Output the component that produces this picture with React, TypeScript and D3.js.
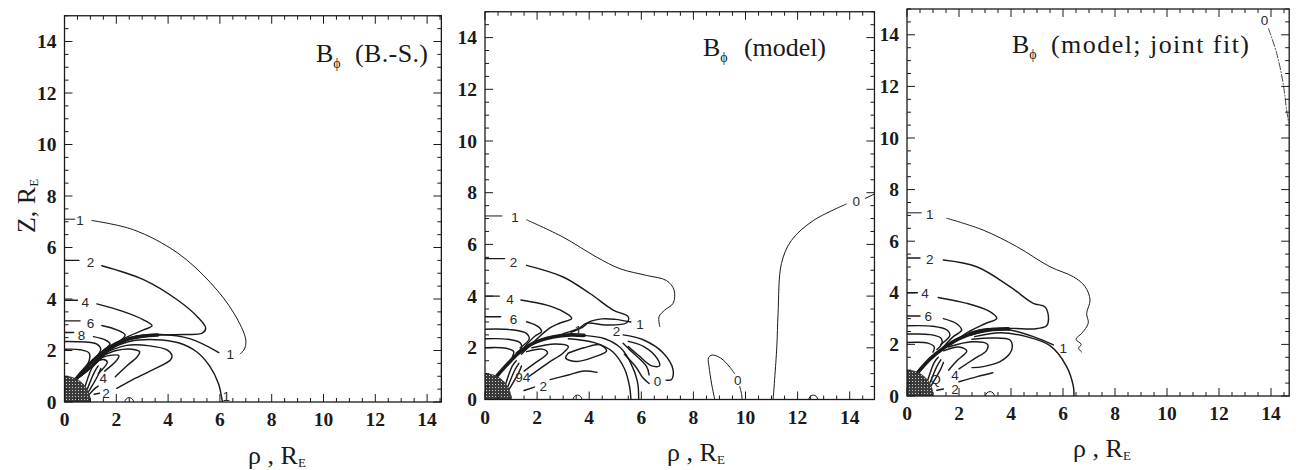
import React from "react";
import * as d3 from "d3";

type Pt = [number, number];

// ---------- tick values ----------
const majorTicks = [0, 2, 4, 6, 8, 10, 12, 14];
const earthRadius = 1;

// ---------- Panel 1 (B.-S.) ----------
const p1Thin: Pt[][] = [
  [[0, 7.1], [0.4, 7.1]],
  [[1.05, 7.05], [2.66, 6.69], [4.35, 5.8], [5.64, 4.63], [6.54, 3.45], [7.0, 2.41], [6.93, 2.02], [6.78, 1.87]],
];
const p1Lines: Pt[][] = [
  [[5.96, 1.92], [4.86, 2.45], [3.7, 2.62], [2.6, 2.52], [1.8, 2.12], [1.2, 1.55], [0.55, 0.95]],
  [[0, 5.5], [0.55, 5.5]],
  [[1.44, 5.29], [3.05, 4.75], [4.35, 3.97], [5.12, 3.32], [5.45, 2.87], [5.32, 2.67], [4.6, 2.62], [3.6, 2.6], [2.6, 2.45], [1.8, 2.05], [1.2, 1.5], [0.55, 0.95]],
  [[0, 3.95], [0.5, 3.95]],
  [[1.25, 3.81], [2.28, 3.51], [3.05, 3.19], [3.38, 2.96], [3.05, 2.8], [2.28, 2.45], [1.7, 2.0], [1.15, 1.45], [0.55, 0.95]],
  [[0, 3.15], [0.6, 3.15]],
  [[1.44, 2.97], [2.02, 2.8], [2.34, 2.6], [2.02, 2.28], [1.6, 1.95], [1.1, 1.4], [0.55, 0.95]],
  [[0, 2.7], [0.35, 2.7]],
  [[1.12, 2.54], [1.57, 2.41], [1.76, 2.25], [1.5, 2.0], [1.05, 1.4], [0.55, 0.95]],
  [[0, 2.35], [0.8, 2.33], [1.25, 2.25], [1.4, 2.05], [1.0, 1.45], [0.55, 0.95]],
  [[0, 2.05], [0.6, 2.03], [0.95, 1.9], [0.95, 1.6], [0.7, 1.2], [0.5, 0.95]],
  [[1.5, 1.95], [2.5, 2.35], [3.5, 2.42], [4.4, 2.3], [5.1, 1.95], [5.6, 1.4], [5.95, 0.7], [6.08, 0.1], [6.1, 0]],
  [[1.3, 1.8], [2.4, 2.2], [3.3, 2.18], [3.96, 2.02], [4.15, 1.8], [4.09, 1.63], [3.3, 1.2], [2.6, 0.85], [2.02, 0.53]],
  [[1.25, 1.7], [2.0, 2.0], [2.6, 2.05], [2.9, 1.95], [2.8, 1.75], [2.4, 1.4], [1.96, 0.98]],
  [[1.15, 1.6], [1.7, 1.8], [2.1, 1.8], [2.0, 1.6], [1.55, 1.2]],
  [[1.1, 1.5], [1.5, 1.65], [1.65, 1.55], [1.3, 1.1]],
  [[0.8, 0.62], [1.05, 1.3], [1.2, 1.5]],
  [[0.88, 0.5], [1.15, 1.15], [1.3, 1.4]],
  [[0.93, 0.4], [1.3, 1.05], [1.4, 1.3]],
  [[0.96, 0.3], [1.2, 0.55], [1.3, 0.62]],
  [[1.15, 0.3], [1.35, 0.34]],
];
const p1Bundle: Pt[] = [[0.45, 0.9], [0.8, 1.3], [1.2, 1.7], [1.7, 2.1], [2.3, 2.4], [3.0, 2.55], [3.6, 2.6]];
const p1Labels: [string, number, number][] = [
  ["1", 0.6, 7.05], ["2", 1.0, 5.4], ["4", 0.8, 3.85], ["6", 1.0, 3.05], ["8", 0.66, 2.6],
  ["1", 6.4, 1.85], ["4", 1.5, 0.9], ["2", 1.6, 0.33], ["1", 6.25, 0.22],
];
const p1Bumps: number[] = [2.5];
const p1Dashed: Pt[][] = [];

// ---------- Panel 2 (model) ----------
const p2Thin: Pt[][] = [
  [[0, 7.1], [0.65, 7.1]],
  [[1.6, 6.95], [3.0, 6.28], [4.28, 5.51], [5.18, 5.06], [6.2, 4.8], [6.97, 4.6], [7.26, 4.23], [7.22, 3.72], [6.9, 3.46], [6.68, 3.2], [6.71, 2.82]],
  [[8.82, 0], [8.7, 0.6], [8.6, 1.28], [8.58, 1.62], [8.72, 1.72], [9.05, 1.6], [9.4, 1.25], [9.58, 1.0]],
  [[9.78, 0.5], [9.85, 0.2], [9.87, 0]],
  [[11.06, 0], [11.2, 2.0], [11.25, 3.33], [11.38, 5.26], [11.76, 6.15], [12.6, 6.92], [13.87, 7.56]],
  [[14.6, 7.78], [14.95, 7.95]],
];
const p2Lines: Pt[][] = [
  [[5.6, 3.0], [5.0, 3.1], [4.5, 3.12], [4.0, 3.0], [3.75, 2.8], [3.3, 2.6]],
  [[0, 5.45], [0.75, 5.45]],
  [[1.6, 5.19], [3.0, 4.74], [4.03, 4.1], [4.92, 3.46], [5.5, 3.2], [5.44, 2.97], [4.67, 2.88], [3.9, 2.95], [3.6, 2.75], [3.0, 2.55]],
  [[0, 4.0], [0.55, 4.0]],
  [[1.38, 3.85], [2.37, 3.65], [3.0, 3.4], [3.33, 3.14], [2.86, 2.95], [2.48, 2.76], [2.0, 2.35], [1.4, 1.75]],
  [[0, 3.2], [0.6, 3.2]],
  [[1.6, 3.01], [2.04, 2.82], [2.17, 2.63], [1.9, 2.44], [1.4, 1.9]],
  [[0, 2.72], [1.0, 2.7], [1.6, 2.55], [1.7, 2.35], [1.35, 2.0]],
  [[0, 2.35], [0.9, 2.33], [1.35, 2.2], [1.4, 2.0], [1.2, 1.8]],
  [[0, 2.0], [0.8, 1.98], [1.1, 1.85], [1.05, 1.65]],
  [[3.8, 2.48], [4.6, 2.35], [5.2, 2.0], [5.6, 1.4], [5.85, 0.7], [5.9, 0]],
  [[3.2, 2.35], [4.2, 2.2], [4.9, 1.85], [5.35, 1.2], [5.55, 0.5], [5.6, 0]],
  [[1.8, 2.0], [2.7, 2.15], [3.2, 2.05], [3.0, 1.8], [2.4, 1.4], [1.7, 0.9]],
  [[1.6, 1.85], [2.2, 1.95], [2.4, 1.8], [1.9, 1.4], [1.5, 1.1]],
  [[3.2, 1.8], [3.8, 2.0], [4.41, 2.12], [4.67, 1.88], [4.2, 1.65], [3.52, 1.47], [3.1, 1.6], [3.2, 1.8]],
  [[2.5, 0.77], [3.2, 0.95], [3.8, 1.1], [4.3, 1.05]],
  [[5.3, 2.5], [6.07, 2.31], [6.84, 1.8], [7.22, 1.15], [7.16, 0.77], [6.95, 0.75]],
  [[6.3, 0.95], [6.2, 1.28], [5.56, 1.92], [5.3, 2.18]],
  [[5.5, 2.25], [6.1, 2.05], [6.6, 1.6], [6.7, 1.3], [6.4, 1.3], [5.9, 1.7], [5.5, 2.05]],
  [[5.35, 1.75], [5.8, 1.25], [6.05, 0.85], [6.3, 0.62]],
  [[0.8, 0.62], [1.05, 1.3], [1.2, 1.5]],
  [[0.88, 0.5], [1.15, 1.15], [1.3, 1.4]],
  [[0.93, 0.4], [1.3, 1.05], [1.4, 1.3]],
  [[1.5, 0.35], [1.9, 0.48]],
];
const p2Bundle: Pt[] = [[0.45, 0.9], [0.85, 1.35], [1.3, 1.8], [1.9, 2.2], [2.6, 2.42], [3.3, 2.5], [3.8, 2.48]];
const p2Labels: [string, number, number][] = [
  ["1", 1.15, 7.03], ["2", 1.09, 5.3], ["4", 0.96, 3.87], ["6", 1.09, 3.08],
  ["1", 5.95, 2.92], ["1", 3.58, 2.68], ["2", 5.05, 2.62], ["0", 6.62, 0.7],
  ["0", 9.7, 0.75], ["0", 14.25, 7.66], ["94", 1.45, 0.85], ["2", 2.24, 0.5],
];
const p2Bumps: number[] = [3.55, 12.6];
const p2Dashed: Pt[][] = [];

// ---------- Panel 3 (model; joint fit) ----------
const p3Thin: Pt[][] = [
  [[0, 7.1], [0.55, 7.1]],
  [[1.53, 6.89], [2.93, 6.43], [4.22, 5.79], [5.5, 5.01], [6.4, 4.62], [6.85, 4.24], [7.04, 3.72], [6.91, 3.2], [6.97, 2.82], [6.72, 2.43], [6.5, 2.2], [6.7, 2.0], [6.6, 1.85], [6.72, 1.7]],
];
const p3Lines: Pt[][] = [
  [[5.63, 1.98], [4.86, 2.3], [3.96, 2.56], [3.07, 2.61], [2.4, 2.45]],
  [[0, 5.35], [0.5, 5.35]],
  [[1.4, 5.27], [2.68, 5.01], [3.96, 4.24], [4.86, 3.59], [5.3, 3.46], [5.44, 3.07], [5.37, 2.72], [4.86, 2.6], [4.0, 2.62], [3.2, 2.55], [2.4, 2.35]],
  [[0, 4.0], [0.4, 4.0]],
  [[1.2, 3.82], [2.3, 3.59], [3.19, 3.27], [3.45, 3.01], [3.0, 2.8], [2.3, 2.45], [1.7, 2.0]],
  [[0, 3.1], [0.5, 3.1]],
  [[1.4, 3.0], [1.91, 2.8], [2.1, 2.55], [1.78, 2.3], [1.4, 1.9]],
  [[0, 2.72], [1.0, 2.7], [1.55, 2.55], [1.65, 2.35], [1.3, 2.0]],
  [[0, 2.4], [0.9, 2.38], [1.3, 2.25], [1.35, 2.05], [1.15, 1.8]],
  [[0, 2.07], [0.8, 2.05], [1.05, 1.9], [1.0, 1.7]],
  [[2.6, 2.3], [3.6, 2.45], [4.6, 2.3], [5.5, 1.95], [6.14, 1.14], [6.4, 0.36], [6.42, 0]],
  [[2.5, 2.2], [3.3, 2.25], [3.96, 2.17], [4.05, 1.9], [3.96, 1.65], [3.58, 1.33], [2.93, 1.14], [2.5, 1.1]],
  [[1.6, 1.9], [2.5, 2.1], [3.1, 2.0], [3.05, 1.75], [2.6, 1.45], [2.0, 1.05]],
  [[1.4, 1.75], [2.0, 1.9], [2.3, 1.75], [1.9, 1.35], [1.6, 1.0]],
  [[2.0, 0.55], [2.7, 0.75], [3.3, 0.9]],
  [[0.8, 0.62], [1.05, 1.3], [1.2, 1.5]],
  [[0.88, 0.5], [1.15, 1.15], [1.3, 1.4]],
  [[0.93, 0.4], [1.3, 1.05], [1.4, 1.3]],
  [[1.15, 0.22], [1.4, 0.27]],
];
const p3Bundle: Pt[] = [[0.37, 0.86], [0.9, 1.45], [1.4, 1.85], [2.0, 2.22], [2.68, 2.47], [3.3, 2.58], [3.9, 2.6]];
const p3Labels: [string, number, number][] = [
  ["1", 0.88, 7.02], ["2", 0.88, 5.3], ["4", 0.69, 3.98], ["6", 0.82, 3.07],
  ["1", 6.01, 1.85], ["Q", 1.1, 0.64], ["4", 1.85, 0.78], ["2", 1.85, 0.24], ["0", 13.75, 14.55],
];
const p3Bumps: number[] = [3.19];
const p3Dashed: Pt[][] = [
  [[13.9, 14.25], [14.22, 13.28], [14.47, 12.1], [14.6, 11.08], [14.68, 10.6]],
];

const panels = [
  { id: "a", left: 64.5, bottom: 402, kx: 25.9, ky: 25.75, xMax: 14.55, title: "(B.-S.)", tX: 316, pX: 355, tY: 62, tLen: 73,
    thin: p1Thin, lines: p1Lines, bundle: p1Bundle, labels: p1Labels, bumps: p1Bumps, dashed: p1Dashed, axisTitleX: 277, axisTitleY: 464, yTitle: true },
  { id: "b", left: 485, bottom: 399.5, kx: 26.05, ky: 25.85, xMax: 14.95, title: "(model)", tX: 703, pX: 744, tY: 56, tLen: 82,
    thin: p2Thin, lines: p2Lines, bundle: p2Bundle, labels: p2Labels, bumps: p2Bumps, dashed: p2Dashed, axisTitleX: 696, axisTitleY: 461, yTitle: false },
  { id: "c", left: 907, bottom: 396, kx: 26.0, ky: 25.8, xMax: 14.7, title: "(model; joint fit)", tX: 1012, pX: 1051, tY: 53, tLen: 198,
    thin: p3Thin, lines: p3Lines, bundle: p3Bundle, labels: p3Labels, bumps: p3Bumps, dashed: p3Dashed, axisTitleX: 1102, axisTitleY: 457, yTitle: false },
];

const SERIF = "'Liberation Serif', 'Times New Roman', serif";
const SANS = "'Liberation Sans', Arial, sans-serif";
const INK = "#1a1a1a";

function Panel({ p }: { p: any }) {
  const x = d3.scaleLinear().domain([0, p.xMax]).range([p.left, p.left + p.xMax * p.kx]);
  const y = d3.scaleLinear().domain([0, 15]).range([p.bottom, p.bottom - 15 * p.ky]);
  const line = d3.line<Pt>().x((d) => x(d[0])).y((d) => y(d[1])).curve(d3.curveCatmullRom.alpha(0.5));
  const x0 = x(0), x1 = x(p.xMax), y0 = y(0), y1 = y(15);
  const minorX = d3.range(0, p.xMax + 0.001, 0.5);
  const minorY = d3.range(0, 15.001, 0.5);
  const earthPts: Pt[] = d3.range(0, 91, 5).map((a) => [earthRadius * Math.cos((a * Math.PI) / 180), earthRadius * Math.sin((a * Math.PI) / 180)] as Pt);
  const earthPath = "M" + x(0) + "," + y(0) + " " + earthPts.map((d) => "L" + x(d[0]) + "," + y(d[1])).join(" ") + " Z";
  const clipId = "clip-" + p.id;
  const isMajor = (v: number) => Math.abs(v / 2 - Math.round(v / 2)) < 1e-6;
  return (
    <g>
      <defs>
        <clipPath id={clipId}>
          <rect x={x0} y={y1} width={x1 - x0} height={y0 - y1} />
        </clipPath>
      </defs>
      <g clipPath={`url(#${clipId})`} fill="none" stroke={INK} strokeLinejoin="round" strokeLinecap="round">
        {p.thin.map((d: Pt[], i: number) => (
          <path key={"t" + i} d={line(d) || ""} strokeWidth={1} />
        ))}
        {p.lines.map((d: Pt[], i: number) => (
          <path key={"l" + i} d={line(d) || ""} strokeWidth={1.45} />
        ))}
        {p.dashed.map((d: Pt[], i: number) => (
          <path key={"d" + i} d={line(d) || ""} strokeWidth={0.8} strokeDasharray="7,2,1,2" />
        ))}
        <path d={line(p.bundle) || ""} strokeWidth={3.6} />
        {p.bumps.map((b: number, i: number) => (
          <path key={"b" + i} d={`M${x(b - 0.17)},${y(0)} A${0.17 * p.kx},${0.17 * p.kx} 0 0 1 ${x(b + 0.17)},${y(0)}`} strokeWidth={1} />
        ))}
        <path d={earthPath} fill={`url(#hatch)`} stroke="#333" strokeWidth={0.8} />
      </g>
      {p.labels.map((l: [string, number, number], i: number) => (
        <text key={"lab" + i} x={x(l[1])} y={y(l[2])} fontFamily={SANS} fontSize={13.5} fill="#2a2a2a" textAnchor="middle" dominantBaseline="central">
          {l[0]}
        </text>
      ))}
      {/* frame */}
      <rect x={x0} y={y1} width={x1 - x0} height={y0 - y1} fill="none" stroke={INK} strokeWidth={1.3} />
      {/* ticks */}
      <g stroke={INK} strokeWidth={1}>
        {minorX.map((v: number) => {
          const len = isMajor(v) ? 8 : 4;
          return (
            <g key={"tx" + v}>
              <line x1={x(v)} x2={x(v)} y1={y0} y2={y0 - len} />
              <line x1={x(v)} x2={x(v)} y1={y1} y2={y1 + len} />
            </g>
          );
        })}
        {minorY.map((v: number) => {
          const len = isMajor(v) ? 8 : 4;
          return (
            <g key={"ty" + v}>
              <line x1={x0} x2={x0 + len} y1={y(v)} y2={y(v)} />
              <line x1={x1} x2={x1 - len} y1={y(v)} y2={y(v)} />
            </g>
          );
        })}
      </g>
      {/* tick labels */}
      {majorTicks.map((v) => (
        <text key={"xl" + v} x={x(v)} y={y0 + 24} fontFamily={SERIF} fontWeight="bold" fontSize={19.5} fill={INK} textAnchor="middle">
          {v}
        </text>
      ))}
      {majorTicks.map((v) => (
        <text key={"yl" + v} x={x0 - 8} y={y(v) + 6.5} fontFamily={SERIF} fontWeight="bold" fontSize={19.5} fill={INK} textAnchor="end">
          {v}
        </text>
      ))}
      {/* panel title */}
      <text x={p.tX} y={p.tY} fontFamily={SERIF} fontSize={26} fill={INK}>
        B<tspan fontSize={14} dy={6}>ϕ</tspan>
      </text>
      <text x={p.pX} y={p.tY} fontFamily={SERIF} fontSize={26} fill={INK} textLength={p.tLen} lengthAdjust="spacing">
        {p.title}
      </text>
      {/* x axis title */}
      <text x={p.axisTitleX} y={p.axisTitleY} fontFamily={SERIF} fontSize={26} fill={INK} textAnchor="middle">
        ρ , R<tspan fontSize={13} dy={3}>E</tspan>
      </text>
      {p.yTitle && (
        <text transform="translate(35,206) rotate(-90)" fontFamily={SERIF} fontSize={26} fill={INK} textAnchor="middle">
          Z, R<tspan fontSize={13} dy={3}>E</tspan>
        </text>
      )}
    </g>
  );
}

export default function App() {
  return (
    <svg width={1300} height={470} style={{ position: "absolute", left: 0, top: 0, background: "#fff" }}>
      <defs>
        <pattern id="hatch" width={3} height={3} patternUnits="userSpaceOnUse">
          <rect width={3} height={3} fill="#3a3a3a" />
          <rect width={1} height={1} fill="#cfcfcf" />
        </pattern>
      </defs>
      <rect width={1300} height={470} fill="#fff" />
      {panels.map((p) => (
        <Panel key={p.id} p={p} />
      ))}
    </svg>
  );
}
